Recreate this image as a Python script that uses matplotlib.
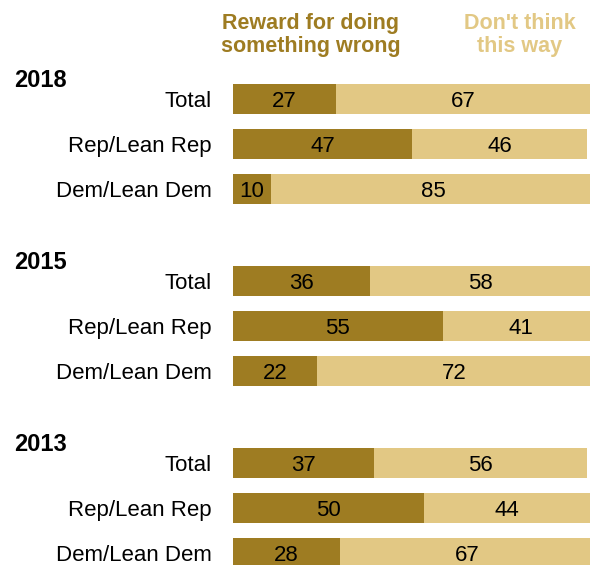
import matplotlib.pyplot as plt

years = ['2018', '2015', '2013']
groups = ['Total', 'Rep/Lean Rep', 'Dem/Lean Dem']
reward = [[27, 47, 10], [36, 55, 22], [37, 50, 28]]
dont_think = [[67, 46, 85], [58, 41, 72], [56, 44, 67]]

DARK = '#9e7c22'
LIGHT = '#e2c884'

plt.rcParams['font.family'] = ['Liberation Sans', 'DejaVu Sans']

fig = plt.figure(figsize=(5.9, 5.65), dpi=100)
ax = fig.add_axes([233 / 590, 0, 381 / 590, 1])
ax.set_xlim(0, 100)
ax.set_ylim(10.356, -2.2)
ax.axis('off')

group_step = 4.044
for g, year in enumerate(years):
    base = g * group_step
    ax.text(-57.5, base - 0.47, year, fontsize=17, fontweight='bold',
            ha='left', va='center_baseline', clip_on=False)
    for i, name in enumerate(groups):
        y = base + i
        r = reward[g][i]
        d = dont_think[g][i]
        ax.barh(y, r, height=0.667, color=DARK, clip_on=False)
        ax.barh(y, d, left=r, height=0.667, color=LIGHT, clip_on=False)
        ax.text(r / 2, y, str(r), ha='center', va='center_baseline', fontsize=16)
        ax.text(r + d / 2, y, str(d), ha='center', va='center_baseline', fontsize=16)
        ax.text(-5.5, y, name, ha='right', va='center_baseline', fontsize=16,
                clip_on=False)

ax.text(20.3, -1.42, 'Reward for doing\nsomething wrong', color=DARK, fontsize=15.5,
        fontweight='bold', ha='center', va='center', linespacing=1.15)
ax.text(75.2, -1.42, "Don't think\nthis way", color=LIGHT, fontsize=15.5,
        fontweight='bold', ha='center', va='center', linespacing=1.15)

fig.savefig('out.png', dpi=100)
